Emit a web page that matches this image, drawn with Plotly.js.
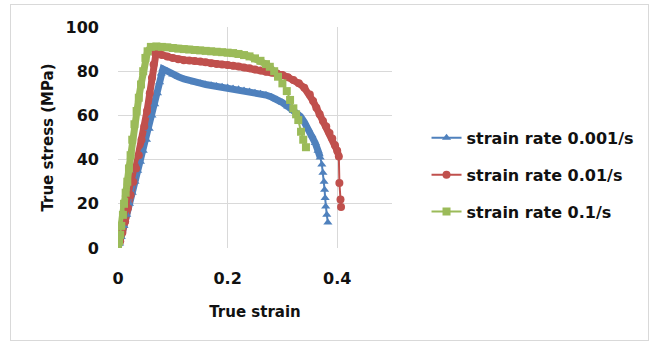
<!DOCTYPE html>
<html>
<head>
<meta charset="utf-8">
<script src="https://cdn.plot.ly/plotly-3.0.1.min.js"></script>
<style>
  html, body { margin: 0; padding: 0; background: #ffffff; }
  #wrap { position: relative; width: 655px; height: 342px; }
  #chart { width: 655px; height: 342px; }
  #frame { position: absolute; left: 10px; top: 4px; width: 637px; height: 335px;
           border: 1px solid #d9d9d9; pointer-events: none; }
</style>
</head>
<body>
<div id="wrap">
  <div id="chart"></div>
  <div id="frame"></div>
</div>
<script>
// ---- data ----
const seriesNames = ["strain rate 0.001/s", "strain rate 0.01/s", "strain rate 0.1/s"];

const strain001 = [0,0.003,0.006,0.011,0.016,0.021,0.026,0.031,0.036,0.041,0.046,0.052,0.057,0.062,0.067,0.072,0.076,0.079,0.082,
  0.09,0.1,0.11,0.12,0.13,0.14,0.15,0.16,0.17,0.18,0.19,0.2,0.21,0.22,0.23,0.24,0.25,0.26,0.27,0.28,0.29,
  0.30,0.31,0.32,0.333,0.34,0.347,0.354,0.36,0.365,0.369,0.372,0.374,0.376,0.377,0.378,0.379,0.381,0.383];
const stress001 = [0,2,5,10,15,20,25,30,35,39,44,49,54,60,65,70,75,79,81,
  80,78.5,77.5,76.5,75.6,75,74.6,74,73.6,73.3,73,72.6,72.2,71.8,71.3,70.8,70.3,69.8,69.2,68.3,67.2,
  65.8,64,62,59.5,57,54,51,47.5,44,41,37.8,34,30,26.4,22.6,18.8,15,11.5];

const strain01 = [0,0.004,0.008,0.013,0.018,0.023,0.028,0.033,0.038,0.043,0.048,0.053,0.058,0.062,0.065,0.068,0.07,
  0.075,0.08,0.09,0.1,0.11,0.12,0.13,0.14,0.15,0.16,0.17,0.18,0.19,0.2,0.21,0.22,0.23,0.24,0.25,0.26,0.27,0.28,0.29,
  0.30,0.31,0.32,0.33,0.34,0.35,0.356,0.362,0.368,0.374,0.38,0.386,0.391,0.396,0.40,0.403,0.404,0.406,0.407];
const stress01 = [0,3,7,12,18,24,30,36,42,49,55,62,70,77,83,88,89,
  88,87.3,86.6,86,85.4,85,84.8,84.6,84.4,84,83.6,83.3,83,82.8,82.5,82.1,81.7,81.3,80.8,80.3,79.8,79.4,79,
  78.3,77.3,76,74.5,72.5,69.5,66.5,63.5,60.5,57.5,55,52,49.5,46.5,44,41.4,29.4,21.9,18.6];

const strain1 = [0,0.002,0.004,0.006,0.009,0.011,0.014,0.017,0.02,0.023,0.026,0.03,0.034,0.038,0.042,0.046,0.05,0.054,0.06,
  0.07,0.08,0.09,0.1,0.11,0.12,0.13,0.14,0.15,0.16,0.17,0.18,0.19,0.2,0.21,0.22,0.23,0.24,0.25,0.26,0.27,0.277,0.285,
  0.292,0.30,0.308,0.314,0.32,0.325,0.329,0.334,0.338,0.343];
const stress1 = [0,3,6,10,15,20,25,30,36,42,49,56,62,68,74,80,86,89,91,
  91.2,91,90.8,90.5,90.2,90,89.8,89.6,89.4,89.2,89,88.8,88.6,88.4,88.2,87.8,87.3,86.7,85.8,84.7,83.2,82,80,
  77.5,74.5,71,67,63.2,60.5,57.9,52.6,49,45.6];

// number of leading points drawn as a dense band (the rest are sparse markers)
const bandCount = [50, 56, 43];

const colors = ["#4F81BD", "#C0504D", "#9BBB59"];
const symbols = ["triangle-up", "circle", "square"];
const xs = [strain001, strain01, strain1];
const ys = [stress001, stress01, stress1];

const FONT = "DejaVu Sans, Verdana, sans-serif";
const traces = [];
for (let i = 0; i < 3; i++) {
  traces.push({
    x: xs[i].slice(0, bandCount[i]), y: ys[i].slice(0, bandCount[i]),
    type: "scatter", mode: "lines", showlegend: false, hoverinfo: "skip",
    legendgroup: "g" + i,
    line: { color: colors[i], width: 7 }
  });
}
for (let i = 0; i < 3; i++) {
  traces.push({
    x: xs[i], y: ys[i], name: seriesNames[i],
    type: "scatter", mode: "lines+markers",
    legendgroup: "g" + i,
    line: { color: colors[i], width: 2 },
    marker: { color: colors[i], symbol: symbols[i], size: 8 }
  });
}

const layout = {
  width: 655, height: 342,
  margin: { l: 118, r: 263, t: 27, b: 94, pad: 0 },
  paper_bgcolor: "#ffffff", plot_bgcolor: "#ffffff",
  font: { family: FONT, color: "#111", size: 15, weight: "bold" },
  showlegend: true,
  legend: {
    x: 1.126, xanchor: "left", y: 0.575, yanchor: "top",
    font: { family: FONT, size: 16, color: "#111", weight: "bold" },
    traceorder: "grouped", tracegroupgap: 13, bgcolor: "rgba(0,0,0,0)"
  },
  xaxis: {
    range: [0, 0.5], dtick: 0.2, tick0: 0,
    showgrid: true, gridcolor: "#d9d9d9", gridwidth: 1,
    zeroline: false, showline: false, ticks: "",
    ticklabelstandoff: 19,
    tickfont: { family: FONT, size: 16, color: "#111", weight: "bold" },
    title: { text: "True strain", standoff: 19,
             font: { family: FONT, size: 15, color: "#111", weight: "bold" } },
    fixedrange: true
  },
  yaxis: {
    range: [0, 100], dtick: 20, tick0: 0,
    showgrid: true, gridcolor: "#d9d9d9", gridwidth: 1,
    zeroline: false, showline: false, ticks: "",
    ticklabelstandoff: 18,
    tickfont: { family: FONT, size: 16, color: "#111", weight: "bold" },
    title: { text: "True stress (MPa)", standoff: 8,
             font: { family: FONT, size: 15, color: "#111", weight: "bold" } },
    fixedrange: true
  }
};

Plotly.newPlot("chart", traces, layout, { displayModeBar: false, staticPlot: true });
</script>
</body>
</html>
